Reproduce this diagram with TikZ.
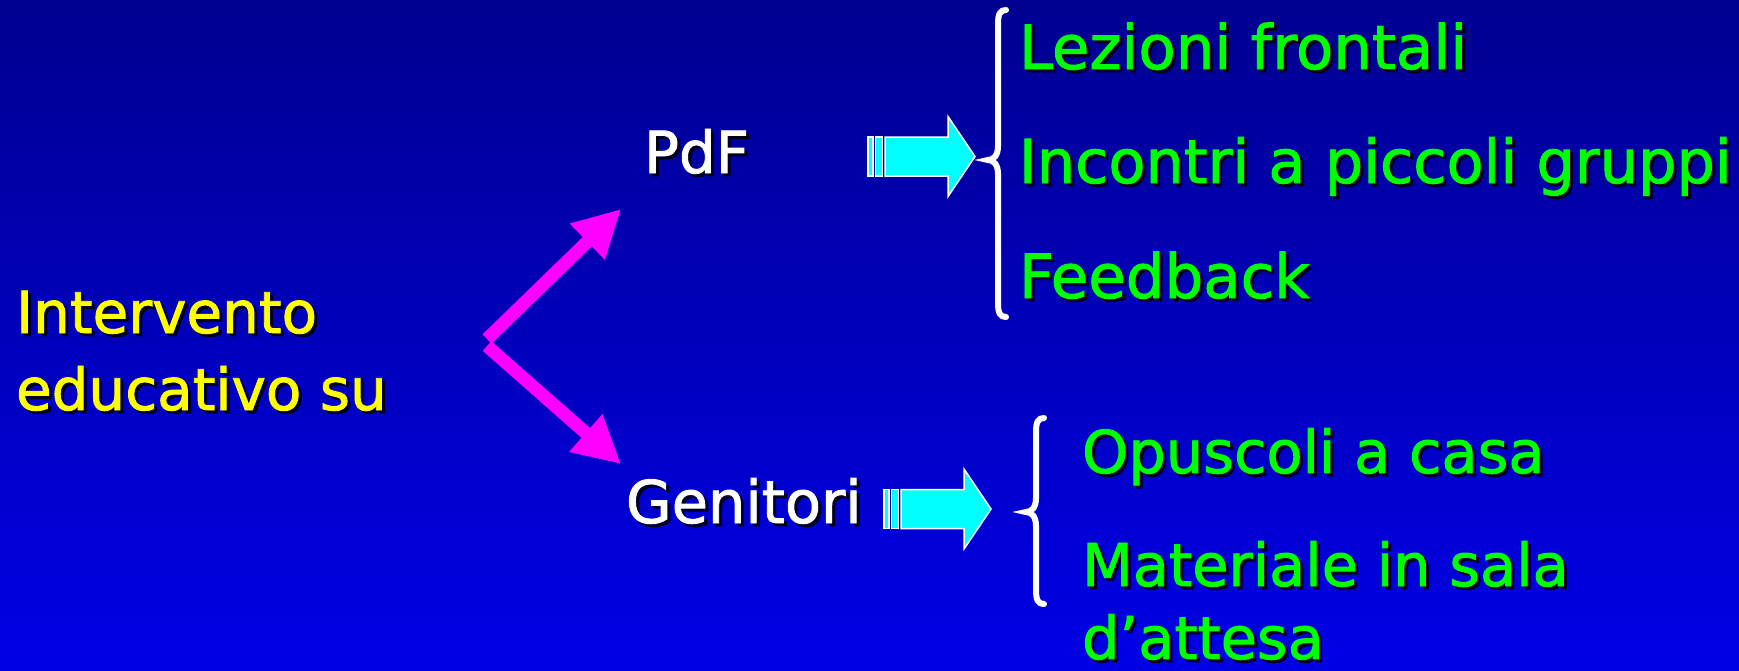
\documentclass[tikz,border=0pt]{standalone}
\usepackage{fontspec}
\setmainfont{DejaVu Sans}[BoldFont=DejaVu Sans, BoldFeatures={FakeBold=1.5}]
\usetikzlibrary{arrows.meta}
\definecolor{bgtop}{RGB}{0,0,144}
\definecolor{bgbot}{RGB}{0,0,230}
\definecolor{mag}{RGB}{255,0,255}
\definecolor{aqua}{RGB}{0,255,255}
\definecolor{lime}{RGB}{0,255,0}
\definecolor{yel}{RGB}{255,255,0}
\newcommand\shtext[5]{% name, position, colour, size, text
  \node[txt, font=\fontsize{#4}{#4}\selectfont\bfseries, text=black, opacity=.8, xshift=3pt, yshift=-3pt] at (#2) {#5};
  \node[txt, font=\fontsize{#4}{#4}\selectfont\bfseries, text=#3] (#1) at (#2) {#5};
}
\newcommand\blockarrow[1]{%
  \begin{scope}[shift={(#1)}]
    \filldraw[barrow] (0,-19.5) rectangle (5,19.5);
    \filldraw[barrow] (7.5,-19.5) rectangle (14.5,19.5);
    \filldraw[barrow] (17,-19.5) -- (80,-19.5) -- (80,-40) -- (107,0) -- (80,40) -- (80,19.5) -- (17,19.5) -- cycle;
  \end{scope}}
\newcommand\curly[4]{% point x, top, mid, bottom
  \draw[bracestroke] ({#1+18},{#2+1}) .. controls ({#1+12},{#2+1}) and ({#1+10},{#2+5}) .. ({#1+10},{#2+15})
    -- ({#1+10},{#3-14}) .. controls ({#1+10},{#3-5}) and ({#1+6},#3) .. (#1,#3)
    .. controls ({#1+6},#3) and ({#1+10},{#3+5}) .. ({#1+10},{#3+14})
    -- ({#1+10},{#4-15}) .. controls ({#1+10},{#4-5}) and ({#1+12},{#4-1}) .. ({#1+18},{#4-1});}
\begin{document}
\begin{tikzpicture}[x=1pt,y=-1pt,
  txt/.style={anchor=base west, inner sep=0pt, outer sep=0pt, text depth=0pt},
  barrow/.style={fill=aqua, draw=white, line width=1.5pt, line join=miter},
  bracestroke/.style={draw=white, line width=6pt, line cap=round},
  magarrow/.style={draw=mag, line width=13pt, -{Triangle[length=47pt,width=47pt]}}]
\shade[top color=bgtop, bottom color=bgbot] (0pt,0pt) rectangle (1739pt,-670pt);
\useasboundingbox (0pt,0pt) rectangle (1739pt,-670pt);

\shtext{int1}{16,333}{yel}{58}{Intervento}
\shtext{int2}{16,410}{yel}{58}{educativo su}
\shtext{pdf}{644,173}{white}{58}{PdF}
\shtext{gen}{626,523}{white}{59}{Genitori}

\shtext{lez}{1019,69}{lime}{61}{Lezioni frontali}
\shtext{inc}{1019,183}{lime}{60.5}{Incontri a piccoli gruppi}
\shtext{fee}{1019,298}{lime}{61}{Feedback}
\shtext{opu}{1082,473}{lime}{59}{Opuscoli a casa}
\shtext{mat}{1082,586}{lime}{59}{Materiale in sala}
\shtext{att}{1082,659}{lime}{59}{d’attesa}

\coordinate (splitA) at (487,339);
\coordinate (tipA) at (621,209);
\coordinate (splitB) at (487,346);
\coordinate (tipB) at (621,464);
\draw[magarrow] (splitA) -- (tipA);
\draw[magarrow] (splitB) -- (tipB);

\blockarrow{868,156.5}
\blockarrow{884,509}

\curly{988}{9}{160}{318}
\curly{1026}{417}{512}{605}
\end{tikzpicture}
\end{document}
